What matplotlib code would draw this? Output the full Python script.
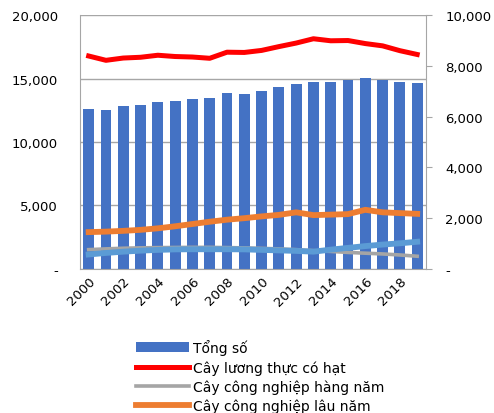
import numpy as np
import matplotlib
matplotlib.use("Agg")
import matplotlib.pyplot as plt
from matplotlib.ticker import FuncFormatter

# data (nghin ha)
years = list(range(2000, 2020))
tong_so = [12640, 12500, 12810, 12940, 13120, 13250, 13390, 13490, 13830, 13750,
           14020, 14300, 14570, 14720, 14750, 14880, 15040, 14860, 14720, 14650]
luong_thuc = [8390, 8220, 8310, 8340, 8420, 8370, 8350, 8300, 8540, 8530,
              8610, 8760, 8900, 9070, 8990, 9000, 8880, 8790, 8600, 8450]
cn_hang_nam = [760, 790, 815, 830, 840, 845, 850, 850, 840, 830,
               810, 790, 760, 720, 690, 650, 620, 590, 550, 500]
cn_lau_nam = [1450, 1470, 1500, 1540, 1600, 1680, 1770, 1860, 1940, 2000,
              2070, 2130, 2230, 2120, 2140, 2160, 2330, 2230, 2200, 2170]
an_qua = [570, 630, 680, 720, 750, 770, 775, 775, 775, 770,
          750, 730, 710, 680, 760, 830, 900, 960, 1010, 1070]

labels = ["Tổng số", "Cây lương thực có hạt", "Cây công nghiệp hàng năm",
          "Cây công nghiệp lâu năm", "Cây ăn quả"]

plt.rcParams['font.family'] = ['DejaVu Sans']
plt.rcParams['font.size'] = 10

def fmt(v, pos):
    return "-" if v == 0 else f"{int(v):,}"

fig = plt.figure(figsize=(4.94, 4.14), dpi=100)
ax = fig.add_axes([0.162, 0.348, 0.7, 0.613])
x = np.arange(len(years))

ax.set_axisbelow(True)
ax.yaxis.grid(True, color="#a6a6a6", linewidth=1)
bars = ax.bar(x, tong_so, width=0.63, color="#4472c4", label=labels[0])
ax.set_ylim(0, 20000)
ax.set_yticks(range(0, 20001, 5000))
ax.yaxis.set_major_formatter(FuncFormatter(fmt))
ax.tick_params(axis="y", length=0, pad=16, labelsize=9.5)
ax.set_xlim(-0.5, len(years) - 0.5)
ax.set_xticks(x[::2])
ax.set_xticklabels([str(y) for y in years[::2]], rotation=45, ha="right",
                   rotation_mode="anchor")
ax.tick_params(axis="x", length=0, pad=4, labelsize=9.5)
for s in ["left", "bottom"]:
    ax.spines[s].set_color("#a6a6a6")
ax.spines["top"].set_visible(False)
ax.spines["right"].set_visible(False)

ax2 = ax.twinx()
l1, = ax2.plot(x, luong_thuc, color="#ff0000", lw=3.6, label=labels[1])
l2, = ax2.plot(x, cn_hang_nam, color="#a5a5a5", lw=2.6, label=labels[2])
l3, = ax2.plot(x, cn_lau_nam, color="#ed7d31", lw=4.2, label=labels[3])
l4, = ax2.plot(x, an_qua, color="#5b9bd5", lw=4.2, label=labels[4])
ax2.set_ylim(0, 10000)
ax2.set_yticks(range(0, 10001, 2000))
ax2.yaxis.set_major_formatter(FuncFormatter(fmt))
ax2.tick_params(axis="y", length=4, color="#a6a6a6", pad=10, labelsize=9.5)
ax2.spines["right"].set_color("#a6a6a6")
for s in ["left", "top", "bottom"]:
    ax2.spines[s].set_visible(False)

fig.legend([bars, l1, l2, l3, l4], labels, loc="upper left",
           bbox_to_anchor=(0.262, 0.195), frameon=False, borderpad=0,
           handlelength=3.8, handletextpad=0.3, labelspacing=0.35, fontsize=10)

fig.savefig("out.png", dpi=100)
